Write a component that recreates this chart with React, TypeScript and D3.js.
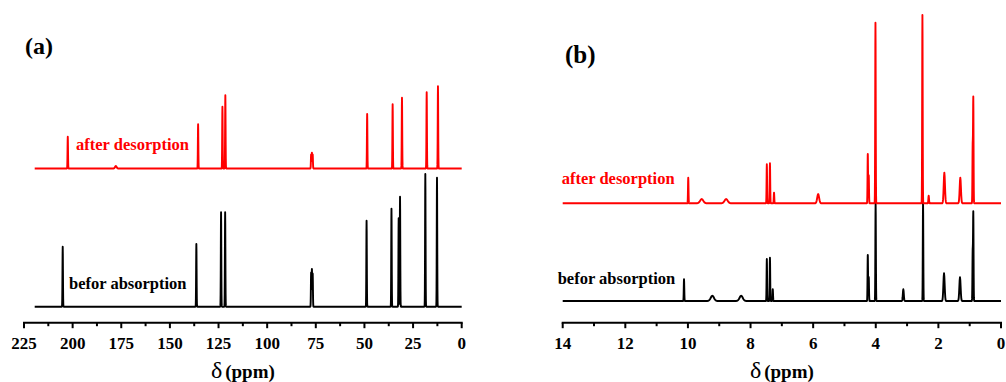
import React from "react";
import * as d3 from "d3";

// ---------- data (peaks: [ppm, intensity, linewidth sigma]) ----------
const C13_BEFORE: [number, number, number][] = [
  [205.1, 60, 0.12],
  [136.4, 62.7, 0.12],
  [123.7, 94.4, 0.12],
  [121.6, 94.4, 0.12],
  [77.4, 34, 0.12],
  [77.0, 37.4, 0.12],
  [76.6, 33, 0.12],
  [48.9, 86, 0.12],
  [36.1, 98, 0.12],
  [32.4, 88.4, 0.12],
  [31.7, 110, 0.12],
  [18.7, 132.7, 0.12],
  [12.7, 129, 0.12],
];
const C13_AFTER: [number, number, number][] = [
  [202.5, 31.8, 0.12],
  [177.8, 2.5, 0.4],
  [135.5, 44.2, 0.12],
  [123.0, 61.8, 0.12],
  [121.5, 73.2, 0.12],
  [77.4, 14, 0.12],
  [77.0, 15.8, 0.12],
  [76.6, 14, 0.12],
  [48.6, 54.5, 0.12],
  [35.5, 64.2, 0.12],
  [30.7, 70.8, 0.12],
  [18.0, 76.2, 0.12],
  [12.2, 82.2, 0.12],
];
const H1_BEFORE: [number, number, number][] = [
  [10.125, 21.7, 0.008],
  [9.22, 5.3, 0.05],
  [8.3, 5.3, 0.05],
  [7.48, 42, 0.008],
  [7.38, 43.3, 0.008],
  [7.29, 11.7, 0.008],
  [4.255, 46, 0.008],
  [4.225, 24, 0.008],
  [4.005, 98, 0.008],
  [3.12, 11.7, 0.015],
  [2.49, 98, 0.008],
  [1.82, 27.7, 0.02],
  [1.31, 23.7, 0.02],
  [0.905, 48, 0.008],
  [0.885, 87.7, 0.008],
];
const H1_AFTER: [number, number, number][] = [
  [9.99, 25.6, 0.008],
  [9.56, 4.3, 0.05],
  [8.78, 4.3, 0.05],
  [7.48, 39, 0.008],
  [7.38, 40, 0.008],
  [7.25, 10.6, 0.008],
  [5.84, 9.3, 0.03],
  [4.255, 49.3, 0.008],
  [4.225, 28, 0.008],
  [4.01, 180.6, 0.008],
  [2.51, 188.3, 0.008],
  [2.31, 7.6, 0.01],
  [1.81, 30.6, 0.02],
  [1.3, 25.6, 0.02],
  [0.905, 56, 0.008],
  [0.885, 104.3, 0.008],
];

const TICKS_A = [225, 200, 175, 150, 125, 100, 75, 50, 25, 0];
const MINOR_A = [212.5, 187.5, 162.5, 137.5, 112.5, 87.5, 62.5, 37.5, 12.5];
const TICKS_B = [14, 12, 10, 8, 6, 4, 2, 0];
const MINOR_B = [13, 11, 9, 7, 5, 3, 1];

const SPEC_RANGE_A: [number, number] = [219.5, 0];
const SPEC_RANGE_B: [number, number] = [14, 0];

const LABEL_AFTER = "after desorption";
const LABEL_BEFORE = "befor absorption";

const FONT = "'Liberation Serif', 'Times New Roman', serif";

function spectrumPoints(peaks: [number, number, number][], lo: number, hi: number) {
  const xs: number[] = [lo, hi];
  for (const [c, , s] of peaks) {
    for (let k = -5; k <= 5; k += 0.5) xs.push(c + k * s);
  }
  const pts = xs
    .filter((x) => x >= Math.min(lo, hi) && x <= Math.max(lo, hi))
    .sort((a, b) => b - a)
    .map((x) => {
      let y = 0;
      for (const [c, h, s] of peaks) {
        const z = (x - c) / s;
        if (Math.abs(z) < 8) y += h * Math.exp(-0.5 * z * z);
      }
      return [x, y] as [number, number];
    });
  return pts;
}

type PanelProps = {
  xDomain: [number, number];
  xRange: [number, number];
  base: number;
  redOffset: number;
  before: [number, number, number][];
  after: [number, number, number][];
  specRange: [number, number];
  ticks: number[];
  minor: number[];
  letter: string;
  letterPos: [number, number, number];
  afterPos: [number, number];
  beforePos: [number, number];
};

function Panel(p: PanelProps) {
  const x = d3.scaleLinear().domain(p.xDomain).range(p.xRange);
  const y = d3.scaleLinear().domain([0, 300]).range([p.base, p.base - 300]);
  const axisY = 322.7;
  const mk = (off: number) =>
    d3
      .line<[number, number]>()
      .x((d) => x(d[0]))
      .y((d) => y(d[1] + off));
  const blackPath = mk(0)(spectrumPoints(p.before, p.specRange[0], p.specRange[1])) || "";
  const redPath = mk(p.redOffset)(spectrumPoints(p.after, p.specRange[0], p.specRange[1])) || "";
  const center = (p.xRange[0] + p.xRange[1]) / 2;
  return (
    <g>
      <path d={blackPath} fill="none" stroke="#000" strokeWidth={1.9} strokeLinejoin="round" />
      <path d={redPath} fill="none" stroke="#ff0000" strokeWidth={1.9} strokeLinejoin="round" />
      <line x1={p.xRange[0]} x2={p.xRange[1]} y1={axisY} y2={axisY} stroke="#000" strokeWidth={2} strokeLinecap="square" />
      {p.ticks.map((t) => (
        <g key={"t" + t}>
          <line x1={x(t)} x2={x(t)} y1={axisY} y2={axisY + 5.5} stroke="#000" strokeWidth={2} />
          <text x={x(t)} y={348.5} textAnchor="middle" fontFamily={FONT} fontWeight="bold" fontSize={17}>
            {t}
          </text>
        </g>
      ))}
      {p.minor.map((t) => (
        <line key={"m" + t} x1={x(t)} x2={x(t)} y1={axisY} y2={axisY + 3.5} stroke="#000" strokeWidth={2} />
      ))}
      <text x={center} y={378} textAnchor="middle" fontFamily={FONT}>
        <tspan fontSize={24}>δ</tspan>
        <tspan dx={3} fontSize={19} fontWeight="bold">(ppm)</tspan>
      </text>
      <text x={p.letterPos[0]} y={p.letterPos[1]} fontFamily={FONT} fontWeight="bold" fontSize={p.letterPos[2]}>
        {p.letter}
      </text>
      <text x={p.afterPos[0]} y={p.afterPos[1]} fontFamily={FONT} fontWeight="bold" fontSize={16.5} fill="#ff0000">
        {LABEL_AFTER}
      </text>
      <text x={p.beforePos[0]} y={p.beforePos[1]} fontFamily={FONT} fontWeight="bold" fontSize={16.5} fill="#000">
        {LABEL_BEFORE}
      </text>
    </g>
  );
}

export default function App() {
  return (
    <svg
      width={1006}
      height={382}
      viewBox="0 0 1006 382"
      style={{ position: "absolute", left: 0, top: 0, display: "block", background: "#fff" }}
    >
      <Panel
        xDomain={[225, 0]}
        xRange={[24, 461.7]}
        base={306.7}
        redOffset={138.2}
        before={C13_BEFORE}
        after={C13_AFTER}
        specRange={SPEC_RANGE_A}
        ticks={TICKS_A}
        minor={MINOR_A}
        letter="(a)"
        letterPos={[25, 54, 24]}
        afterPos={[76, 149.5]}
        beforePos={[69, 288.5]}
      />
      <Panel
        xDomain={[14, 0]}
        xRange={[562.7, 1001]}
        base={301}
        redOffset={97.7}
        before={H1_BEFORE}
        after={H1_AFTER}
        specRange={SPEC_RANGE_B}
        ticks={TICKS_B}
        minor={MINOR_B}
        letter="(b)"
        letterPos={[565, 63, 25]}
        afterPos={[561.7, 183.5]}
        beforePos={[557.7, 283.5]}
      />
    </svg>
  );
}
